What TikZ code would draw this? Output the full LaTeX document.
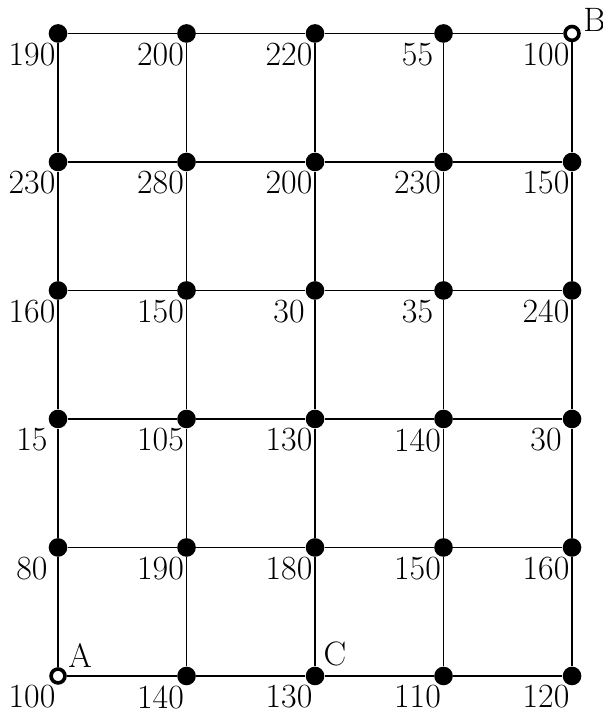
\documentclass[tikz,border=0pt]{standalone}
\begin{document}
\begin{tikzpicture}[
  dot/.style={circle,fill=black,inner sep=0pt,minimum size=0.29cm},
  odot/.style={circle,draw=black,fill=white,line width=1.6pt,inner sep=0pt,minimum size=0.216cm},
  val/.style={anchor=north,inner sep=0pt,font=\fontsize{15}{18}\selectfont},
  letter/.style={anchor=south west,inner sep=0pt,font=\fontsize{15}{18}\selectfont},
  gridline/.style={line width=0.5pt,black}
]
\useasboundingbox (-0.903,-0.514) rectangle (8.482,10.521);
\foreach \row [count=\j from 0] in {{100,140,130,110,120},{80,190,180,150,160},{15,105,130,140,30},{160,150,30,35,240},{230,280,200,230,150},{190,200,220,55,100}}{
  \foreach \v [count=\i from 0] in \row {
    \def\st{dot}
    \ifnum\i=0 \ifnum\j=0 \def\st{odot}\fi\fi
    \ifnum\i=4 \ifnum\j=5 \def\st{odot}\fi\fi
    \edef\mk{\noexpand\node[\st] (n\i\j) at (2*\i,2*\j) {};}\mk
    \node[val] (v\i\j) at ([shift={(-0.405,-0.14)}]n\i\j.center) {\v};
  }
}
\foreach \i in {0,1,2,3}{
  \pgfmathtruncatemacro\nx{\i+1}
  \foreach \j in {0,1,2,3,4,5}{
    \draw[gridline] (n\i\j) -- (n\nx\j);
  }
}
\foreach \i in {0,1,2,3,4}{
  \foreach \j in {0,1,2,3,4}{
    \pgfmathtruncatemacro\ny{\j+1}
    \draw[gridline] (n\i\j) -- (n\i\ny);
  }
}
\node[letter] (la) at ([shift={(0.156,0.125)}]n00.center) {A};
\node[letter] (lb) at ([shift={(0.171,0.02)}]n45.center) {B};
\node[letter] (lc) at ([shift={(0.125,0.145)}]n20.center) {C};
\end{tikzpicture}
\end{document}
